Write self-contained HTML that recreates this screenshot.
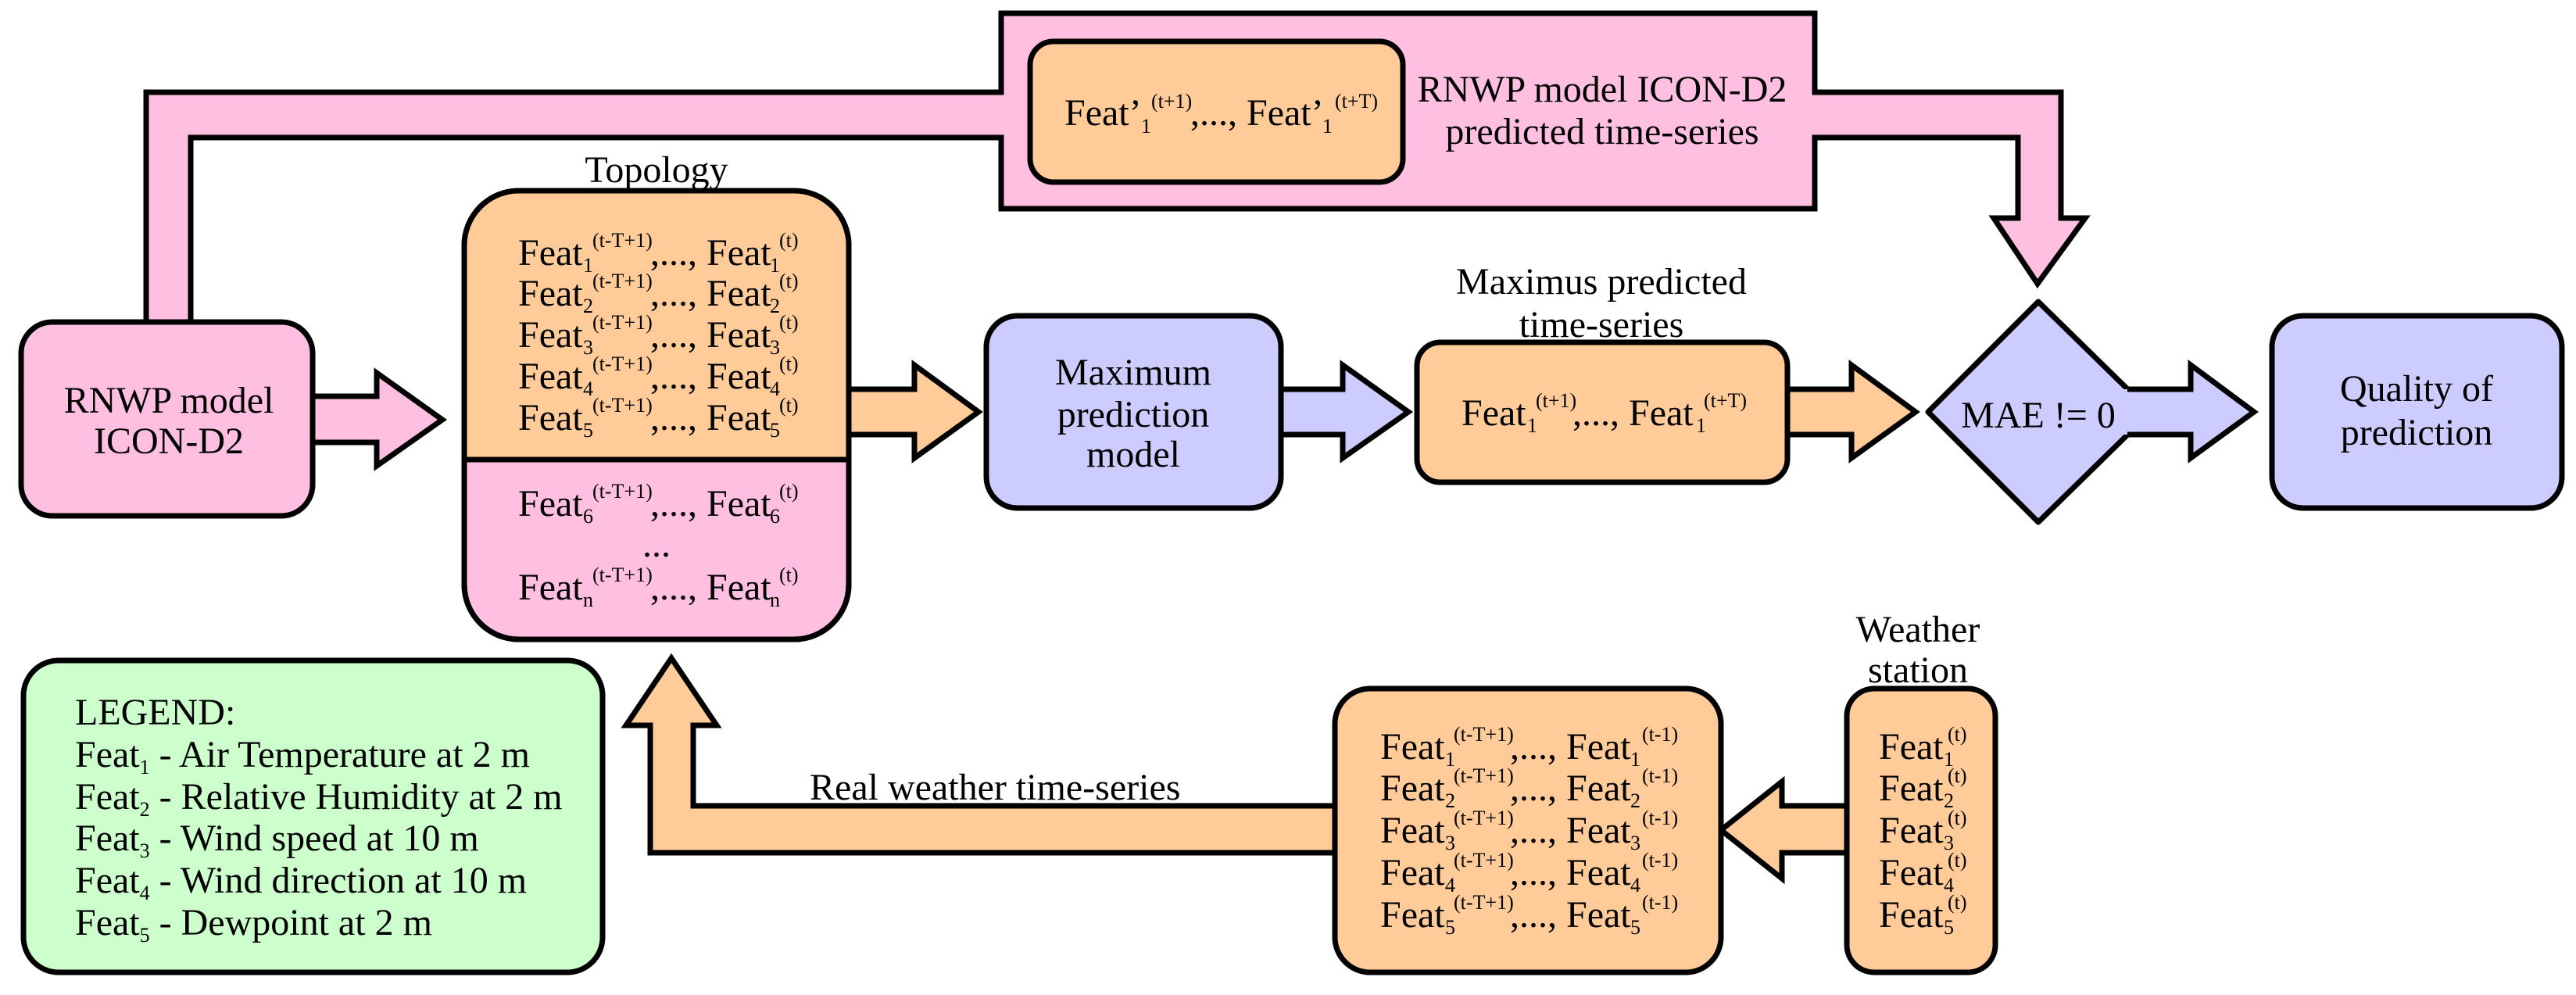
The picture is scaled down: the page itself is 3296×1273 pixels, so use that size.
<!DOCTYPE html>
<html><head><meta charset="utf-8"><style>
html,body{margin:0;padding:0;background:#fff;}
svg{display:block;font-family:"Liberation Serif","Times New Roman",serif;}
svg text{font-family:"Liberation Serif","Times New Roman",serif;font-size:48px;fill:#000;}
svg text.s, svg tspan.s{font-size:26px;}
</style></head><body>
<svg width="3296" height="1273" viewBox="0 0 3296 1273" xmlns="http://www.w3.org/2000/svg" font-family="Liberation Serif, serif">
<g stroke="#000" stroke-width="7" stroke-linejoin="miter">
<path d="M187,420 L187,118 L1281,118 L1281,17 L2322,17 L2322,118 L2637,118 L2637,279 L2668,279 L2607,363 L2551,279 L2582,279 L2582,176 L2322,176 L2322,267 L1281,267 L1281,176 L244,176 L244,420 Z" fill="#FFBFE0"/>
<rect x="1318" y="53" width="477" height="180" rx="30" fill="#FFCC99"/>
<path d="M380,507 L482,507 L482,477 L566,537 L482,596 L482,566 L380,566 Z" fill="#FFBFE0"/>
<path d="M1070,498 L1170,498 L1170,467 L1252,527 L1170,586 L1170,556 L1070,556 Z" fill="#FFCC99"/>
<path d="M1620,498 L1718,498 L1718,467 L1802,527 L1718,586 L1718,556 L1620,556 Z" fill="#CCCCFF"/>
<path d="M2270,498 L2369,498 L2369,467 L2451,527 L2369,586 L2369,556 L2270,556 Z" fill="#FFCC99"/>
<path d="M1708,1031 L887,1031 L887,928 L917,928 L859,842 L801,928 L832,928 L832,1091 L1708,1091 Z" fill="#FFCC99"/>
<path d="M2370,1031 L2280,1031 L2280,1000 L2202,1062 L2280,1124 L2280,1091 L2370,1091 Z" fill="#FFCC99"/>
<rect x="27" y="412" width="373" height="248" rx="40" fill="#FFBFE0"/>
<rect x="594" y="244" width="492" height="574" rx="70" fill="#FFBFE0"/>
<path d="M594,588 L594,314 Q594,244 664,244 L1016,244 Q1086,244 1086,314 L1086,588 Z" fill="#FFCC99" stroke="none"/>
<rect x="594" y="244" width="492" height="574" rx="70" fill="none"/>
<line x1="594" y1="588" x2="1086" y2="588"/>
<rect x="1262" y="404" width="377" height="246" rx="40" fill="#CCCCFF"/>
<rect x="1813" y="438" width="474" height="179" rx="30" fill="#FFCC99"/>
<polygon points="2608,386 2752,527 2608,668 2467,527" fill="#CCCCFF" stroke-linejoin="round" stroke-width="7"/>
<path d="M2700,498 L2803,498 L2803,467 L2884,527 L2803,586 L2803,556 L2700,556 Z" fill="#CCCCFF" stroke="none"/>
<path d="M2722,498 L2803,498 L2803,467 L2884,527 L2803,586 L2803,556 L2722,556" fill="none"/>
<rect x="2907" y="404" width="371" height="246" rx="40" fill="#CCCCFF"/>
<rect x="30" y="845" width="741" height="399" rx="45" fill="#CCFFCC"/>
<rect x="1708" y="881" width="494" height="363" rx="45" fill="#FFCC99"/>
<rect x="2363" y="881" width="190" height="363" rx="35" fill="#FFCC99"/>
</g>

<g font-family="Liberation Serif, serif" font-size="48">
<text x="2050" y="130" text-anchor="middle">RNWP model ICON-D2</text>
<text x="2050" y="184" text-anchor="middle">predicted time-series</text>
<text x="840" y="233" text-anchor="middle">Topology</text>
<text x="216" y="528" text-anchor="middle">RNWP model</text>
<text x="216" y="580" text-anchor="middle">ICON-D2</text>
<text x="1450" y="492" text-anchor="middle">Maximum</text>
<text x="1450" y="546" text-anchor="middle">prediction</text>
<text x="1450" y="597" text-anchor="middle">model</text>
<text x="2049" y="376" text-anchor="middle">Maximus predicted</text>
<text x="2049" y="431" text-anchor="middle">time-series</text>
<text x="2608" y="547" text-anchor="middle">MAE != 0</text>
<text x="3092" y="513" text-anchor="middle">Quality of</text>
<text x="3092" y="569" text-anchor="middle">prediction</text>
<text x="2454" y="821" text-anchor="middle">Weather</text>
<text x="2454" y="873" text-anchor="middle">station</text>
<text x="1036" y="1023">Real weather time-series</text>

<text x="1362" y="160">Feat’</text>
<text x="1460" y="170" class="s">1</text><text x="1473" y="138" class="s">(t+1)</text>
<text x="1523" y="160">,..., Feat’</text>
<text x="1692" y="170" class="s">1</text><text x="1708" y="138" class="s">(t+T)</text>

<text x="663" y="339">Feat</text><text x="746" y="348" class="s">1</text><text x="758" y="316" class="s">(t-T+1)</text><text x="832" y="339">,..., Feat</text><text x="985" y="348" class="s">1</text><text x="997" y="316" class="s">(t)</text>
<text x="663" y="391">Feat</text><text x="746" y="400" class="s">2</text><text x="758" y="368" class="s">(t-T+1)</text><text x="832" y="391">,..., Feat</text><text x="985" y="400" class="s">2</text><text x="997" y="368" class="s">(t)</text>
<text x="663" y="444">Feat</text><text x="746" y="453" class="s">3</text><text x="758" y="421" class="s">(t-T+1)</text><text x="832" y="444">,..., Feat</text><text x="985" y="453" class="s">3</text><text x="997" y="421" class="s">(t)</text>
<text x="663" y="497">Feat</text><text x="746" y="506" class="s">4</text><text x="758" y="474" class="s">(t-T+1)</text><text x="832" y="497">,..., Feat</text><text x="985" y="506" class="s">4</text><text x="997" y="474" class="s">(t)</text>
<text x="663" y="550">Feat</text><text x="746" y="559" class="s">5</text><text x="758" y="527" class="s">(t-T+1)</text><text x="832" y="550">,..., Feat</text><text x="985" y="559" class="s">5</text><text x="997" y="527" class="s">(t)</text>
<text x="663" y="660">Feat</text><text x="746" y="669" class="s">6</text><text x="758" y="637" class="s">(t-T+1)</text><text x="832" y="660">,..., Feat</text><text x="985" y="669" class="s">6</text><text x="997" y="637" class="s">(t)</text>
<text x="840" y="712" text-anchor="middle">...</text>
<text x="663" y="767">Feat</text><text x="746" y="776" class="s">n</text><text x="758" y="744" class="s">(t-T+1)</text><text x="832" y="767">,..., Feat</text><text x="985" y="776" class="s">n</text><text x="997" y="744" class="s">(t)</text>

<text x="1870" y="544">Feat</text><text x="1954" y="553" class="s">1</text><text x="1965" y="521" class="s">(t+1)</text>
<text x="2012" y="544">,..., Feat</text><text x="2170" y="553" class="s">1</text><text x="2180" y="521" class="s">(t+T)</text>

<text x="96" y="927">LEGEND:</text>
<text x="96" y="981">Feat<tspan class="s" dy="9">1</tspan><tspan dy="-9"> - Air Temperature at 2 m</tspan></text>
<text x="96" y="1035">Feat<tspan class="s" dy="9">2</tspan><tspan dy="-9"> - Relative Humidity at 2 m</tspan></text>
<text x="96" y="1088">Feat<tspan class="s" dy="9">3</tspan><tspan dy="-9"> - Wind speed at 10 m</tspan></text>
<text x="96" y="1142">Feat<tspan class="s" dy="9">4</tspan><tspan dy="-9"> - Wind direction at 10 m</tspan></text>
<text x="96" y="1196">Feat<tspan class="s" dy="9">5</tspan><tspan dy="-9"> - Dewpoint at 2 m</tspan></text>

<text x="1766" y="971">Feat</text><text x="1849" y="980" class="s">1</text><text x="1860" y="948" class="s">(t-T+1)</text><text x="1932" y="971">,..., Feat</text><text x="2086" y="980" class="s">1</text><text x="2101" y="948" class="s">(t-1)</text>
<text x="1766" y="1024">Feat</text><text x="1849" y="1033" class="s">2</text><text x="1860" y="1001" class="s">(t-T+1)</text><text x="1932" y="1024">,..., Feat</text><text x="2086" y="1033" class="s">2</text><text x="2101" y="1001" class="s">(t-1)</text>
<text x="1766" y="1078">Feat</text><text x="1849" y="1087" class="s">3</text><text x="1860" y="1055" class="s">(t-T+1)</text><text x="1932" y="1078">,..., Feat</text><text x="2086" y="1087" class="s">3</text><text x="2101" y="1055" class="s">(t-1)</text>
<text x="1766" y="1132">Feat</text><text x="1849" y="1141" class="s">4</text><text x="1860" y="1109" class="s">(t-T+1)</text><text x="1932" y="1132">,..., Feat</text><text x="2086" y="1141" class="s">4</text><text x="2101" y="1109" class="s">(t-1)</text>
<text x="1766" y="1186">Feat</text><text x="1849" y="1195" class="s">5</text><text x="1860" y="1163" class="s">(t-T+1)</text><text x="1932" y="1186">,..., Feat</text><text x="2086" y="1195" class="s">5</text><text x="2101" y="1163" class="s">(t-1)</text>

<text x="2404" y="971">Feat</text><text x="2487" y="980" class="s">1</text><text x="2492" y="948" class="s">(t)</text>
<text x="2404" y="1024">Feat</text><text x="2487" y="1033" class="s">2</text><text x="2492" y="1001" class="s">(t)</text>
<text x="2404" y="1078">Feat</text><text x="2487" y="1087" class="s">3</text><text x="2492" y="1055" class="s">(t)</text>
<text x="2404" y="1132">Feat</text><text x="2487" y="1141" class="s">4</text><text x="2492" y="1109" class="s">(t)</text>
<text x="2404" y="1186">Feat</text><text x="2487" y="1195" class="s">5</text><text x="2492" y="1163" class="s">(t)</text>
</g>
</svg>
</body></html>
